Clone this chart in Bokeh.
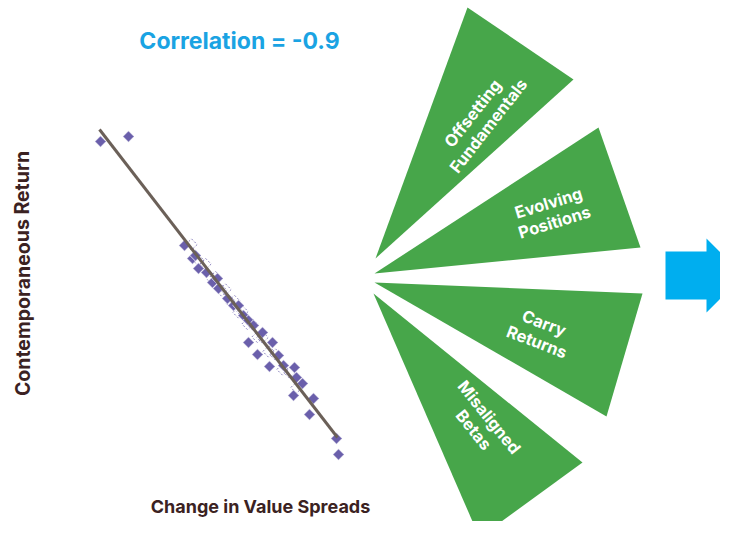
from bokeh.plotting import figure
from bokeh.models import Range1d, ColumnDataSource
from bokeh.core.properties import value
from bokeh.embed import file_html
from bokeh.resources import INLINE

# ---- scatter data (change in value spreads vs contemporaneous return) ----
spread_chg = [-2.40, -1.84, -0.72, -0.56, -0.44, -0.28, -0.16, -0.04, 0.14, 0.26,
              0.46, 0.56, 0.84, 1.04, 0.56, 0.74, 0.98, 1.16, 1.26, 1.48,
              1.52, 1.64, 1.46, 1.86, 1.78, 2.32, 2.36, -0.50, -0.06, 0.36, 0.66]
contemp_ret = [2.98, 3.08, 0.90, 0.64, 0.44, 0.36, 0.16, 0.04, -0.16, -0.30,
               -0.50, -0.60, -0.84, -1.04, -1.04, -1.28, -1.52, -1.30, -1.50, -1.54,
               -1.74, -1.86, -2.10, -2.16, -2.48, -2.96, -3.28, 0.70, 0.24, -0.30, -0.70]
ghost_x = [-0.58, -0.44, -0.30, -0.18, -0.10, 0.02, 0.10, 0.20, 0.28, 0.36,
           0.44, 0.54, 0.64, 0.74, 0.84, 0.96, 1.10, 1.24, 1.38, 1.52]
ghost_y = [0.92, 0.60, 0.53, 0.25, 0.27, 0.00, 0.02, -0.23, -0.21, -0.44,
           -0.42, -0.67, -0.68, -0.93, -0.94, -1.22, -1.28, -1.58, -1.64, -1.94]
fit_x = [-2.42, 2.34]
fit_y = [3.22, -2.94]
title_text = "Correlation = -0.9"
x_title = "Change in Value Spreads"
y_title = "Contemporaneous Return"

# ---- diagram labels ----
wedge_labels = ["Offsetting\nFundamentals", "Evolving\nPositions", "Carry\nReturns", "Misaligned\nBetas"]

W, H = 720, 521
p = figure(width=W, height=H, output_backend="svg", toolbar_location=None,
           x_range=Range1d(0, W), y_range=Range1d(H, 0),
           x_axis_location=None, y_axis_location=None, min_border=0)
p.outline_line_color = None
p.grid.visible = False
p.background_fill_color = "white"

# scatter scales (data units mapped onto left part of the canvas)
# px = 220 + 50*x ; py = 290 - 50*y
p.extra_x_ranges = {"sc": Range1d((0 - 220) / 50, (W - 220) / 50)}
p.extra_y_ranges = {"sc": Range1d((290 - H) / 50, (290 - 0) / 50)}

purple = "#6a5fab"
p.scatter(x=ghost_x, y=ghost_y, x_range_name="sc", y_range_name="sc",
          marker="square", angle=45, angle_units="deg", size=8,
          fill_alpha=0, line_color=purple, line_width=1, line_dash="2 2", line_alpha=0.8)
p.scatter(x=spread_chg, y=contemp_ret, x_range_name="sc", y_range_name="sc",
          marker="square", angle=45, angle_units="deg", size=8,
          fill_color=purple, line_color="white", line_width=0.8)
p.line(x=fit_x, y=fit_y, x_range_name="sc", y_range_name="sc",
       line_color="#6b6058", line_width=3)

# ---- wedges ----
green = "#47a64a"
wedge_xs = [[375, 467, 573], [374, 598, 640], [374, 642, 606], [373, 582, 479]]
wedge_ys = [[258, 7, 79], [273, 127, 247], [282, 293, 416], [293, 462, 537]]
p.patches(xs=wedge_xs, ys=wedge_ys, fill_color=green, line_color=None)

lab_src = ColumnDataSource(dict(x=[480, 551, 540, 481], y=[119, 212, 332, 423],
                                text=wedge_labels, angle=[52, 17, -21, -51]))
p.text(x="x", y="y", text="text", angle="angle", angle_units="deg", source=lab_src,
       text_color="white", text_font=value("Inter"), text_font_style="bold",
       text_font_size="16.5px", text_align="center", text_baseline="middle",
       text_line_height=1.0)

# ---- arrow ----
p.patch(x=[665, 706, 706, 743, 706, 706, 665], y=[251, 251, 238, 275, 312, 299, 299],
        fill_color="#00aeef", line_color=None)

# ---- titles ----
p.text(x=[239], y=[40], text=[title_text], text_color="#1aa3e3", text_font=value("Inter"),
       text_font_style="bold", text_font_size="23px", text_align="center", text_baseline="middle")
p.text(x=[260], y=[506], text=[x_title], text_color="#3b2222", text_font=value("Inter"),
       text_font_style="bold", text_font_size="18px", text_align="center", text_baseline="middle")
p.text(x=[22], y=[273], text=[y_title], angle=[90], angle_units="deg", text_color="#3b2222",
       text_font=value("Inter"), text_font_style="bold", text_font_size="19.5px",
       text_align="center", text_baseline="middle")

open("out.html", "w").write(file_html(p, INLINE))
